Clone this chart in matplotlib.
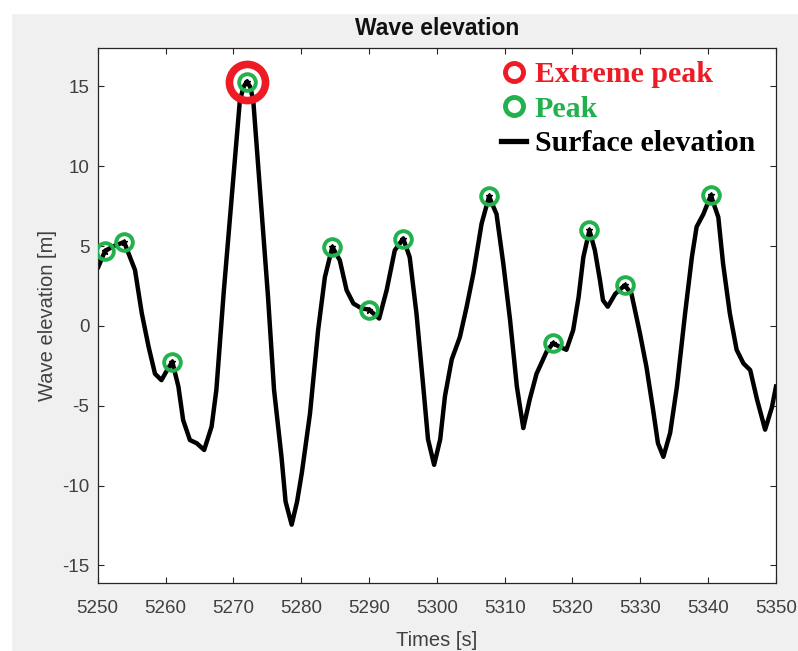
import matplotlib
matplotlib.use("Agg")
import matplotlib.pyplot as plt
from matplotlib.lines import Line2D
from matplotlib.patches import Rectangle

# surface elevation
times = [5250.1, 5251.1, 5252.4, 5253.9, 5255.5, 5256.5, 5257.5, 5258.45, 5259.4,
         5260.2, 5261.0, 5261.9, 5262.6, 5263.6, 5264.6, 5265.7, 5266.8, 5267.5,
         5268.6, 5270.96, 5271.5, 5272.0, 5272.5, 5272.94, 5275.1, 5276.0, 5277.1,
         5277.7, 5278.6, 5279.4, 5280.1, 5281.3, 5282.5, 5283.5, 5284.6, 5285.7,
         5286.7, 5287.7, 5288.9, 5290.0, 5291.5, 5292.6, 5293.8, 5295.05, 5296.0,
         5297.0, 5298.0, 5298.7, 5299.6, 5300.5, 5301.2, 5302.2, 5303.4, 5304.4,
         5305.4, 5306.6, 5307.7, 5308.8, 5309.8, 5310.8, 5311.8, 5312.75, 5313.7,
         5314.7, 5316.2, 5317.1, 5319.1, 5320.1, 5320.9, 5321.6, 5322.5, 5323.3,
         5324.05, 5324.5, 5325.2, 5326.3, 5327.7, 5328.7, 5329.95, 5330.9, 5331.9,
         5332.6, 5333.4, 5334.4, 5335.4, 5336.6, 5337.6, 5338.3, 5339.3, 5340.4,
         5341.5, 5342.2, 5343.2, 5344.2, 5345.2, 5346.2, 5347.2, 5348.4, 5349.4,
         5350.0]
elev = [3.7, 4.7, 5.0, 5.25, 3.5, 0.8, -1.3, -3.0, -3.4,
        -2.8, -2.25, -3.8, -5.9, -7.15, -7.35, -7.77, -6.3, -4.0,
        2.2, 14.1, 14.95, 15.3, 14.95, 14.1, 1.9, -4.0, -8.2,
        -11.0, -12.45, -11.0, -9.2, -5.5, -0.27, 3.06, 4.94, 4.1,
        2.23, 1.4, 1.09, 1.02, 0.46, 2.23, 4.73, 5.46, 4.3,
        0.77, -3.8, -7.1, -8.7, -7.1, -4.4, -2.1, -0.7, 1.2,
        3.3, 6.4, 8.1, 7.0, 3.9, 0.36, -3.8, -6.4, -4.6,
        -3.0, -1.6, -1.1, -1.5, -0.27, 1.8, 4.3, 5.98, 4.73,
        2.86, 1.6, 1.2, 2.0, 2.54, 2.0, -0.48, -2.56, -5.3,
        -7.35, -8.2, -6.7, -3.8, 0.77, 4.3, 6.2, 7.0, 8.17,
        6.8, 3.9, 0.77, -1.5, -2.35, -2.77, -4.6, -6.5, -5.1,
        -3.8]

peak_t = [5251.1, 5253.9, 5261.0, 5272.0, 5284.6, 5290.0, 5295.05, 5307.7,
          5317.1, 5322.5, 5327.7, 5340.4]
peak_y = [4.7, 5.25, -2.25, 15.3, 4.94, 1.02, 5.46, 8.1, -1.1, 5.98, 2.54, 8.17]

extreme_t = [5272.0]
extreme_y = [15.3]

red = "#ed1c24"
green = "#22b14c"
axcol = "#262626"

plt.rcParams["font.family"] = ["Liberation Sans", "DejaVu Sans"]
plt.rcParams["axes.unicode_minus"] = False

fig = plt.figure(figsize=(7.98, 6.51), dpi=100, facecolor="#f0f0f0")
# white strip of the screenshot at top and left
fig.patches.append(Rectangle((0, 0.98), 1, 0.02, transform=fig.transFigure,
                             color="white", zorder=-1))
fig.patches.append(Rectangle((0, 0), 0.0138, 1, transform=fig.transFigure,
                             color="white", zorder=-1))

ax = fig.add_axes([0.1224, 0.1045, 0.8500, 0.8218])
ax.plot(times, elev, color="black", linewidth=3.2, zorder=2,
        solid_joinstyle="round")
ax.plot(extreme_t, extreme_y, "o", markersize=26, markerfacecolor="none",
        markeredgecolor=red, markeredgewidth=5.5, zorder=3)
ax.plot(peak_t, peak_y, "o", markersize=12, markerfacecolor="none",
        markeredgecolor=green, markeredgewidth=2.8, zorder=4)
ax.plot(peak_t, peak_y, "*", markersize=5, color="black", zorder=5)

ax.set_xlim(5250, 5350)
ax.set_ylim(-16.1, 17.4)
ax.set_xticks(range(5250, 5351, 10))
ax.set_yticks([-15, -10, -5, 0, 5, 10, 15])
ax.tick_params(direction="in", length=4, top=True, right=True, colors=axcol,
               labelsize=13.5, labelcolor="#404040", width=0.8)
ax.tick_params(axis="x", pad=12)
ax.tick_params(axis="y", pad=6)
for sp in ax.spines.values():
    sp.set_color(axcol)
    sp.set_linewidth(0.9)

ax.set_title("Wave elevation", fontsize=16.5, fontweight="bold", color="#111111", pad=9)
ax.set_xlabel("Times [s]", fontsize=14.5, color="#404040", labelpad=10)
ax.set_ylabel("Wave elevation [m]", fontsize=14.5, color="#404040", labelpad=4)

handles = [
    Line2D([], [], linestyle="none", marker="o", markersize=13, markerfacecolor="none",
           markeredgecolor=red, markeredgewidth=3.5),
    Line2D([], [], linestyle="none", marker="o", markersize=13, markerfacecolor="none",
           markeredgecolor=green, markeredgewidth=3.5),
    Line2D([], [], color="black", linewidth=3.8),
]
leg = ax.legend(handles, ["Extreme peak", "Peak", "Surface elevation"],
                loc="upper right", bbox_to_anchor=(1.0, 1.014), frameon=False,
                handlelength=0.85, handletextpad=0.28,
                labelspacing=0.25, borderaxespad=0.55, borderpad=0.15,
                labelcolor=[red, green, "black"],
                prop={"family": "Liberation Serif", "weight": "bold", "size": 21.5})

fig.savefig("out.png", dpi=100, facecolor=fig.get_facecolor())
